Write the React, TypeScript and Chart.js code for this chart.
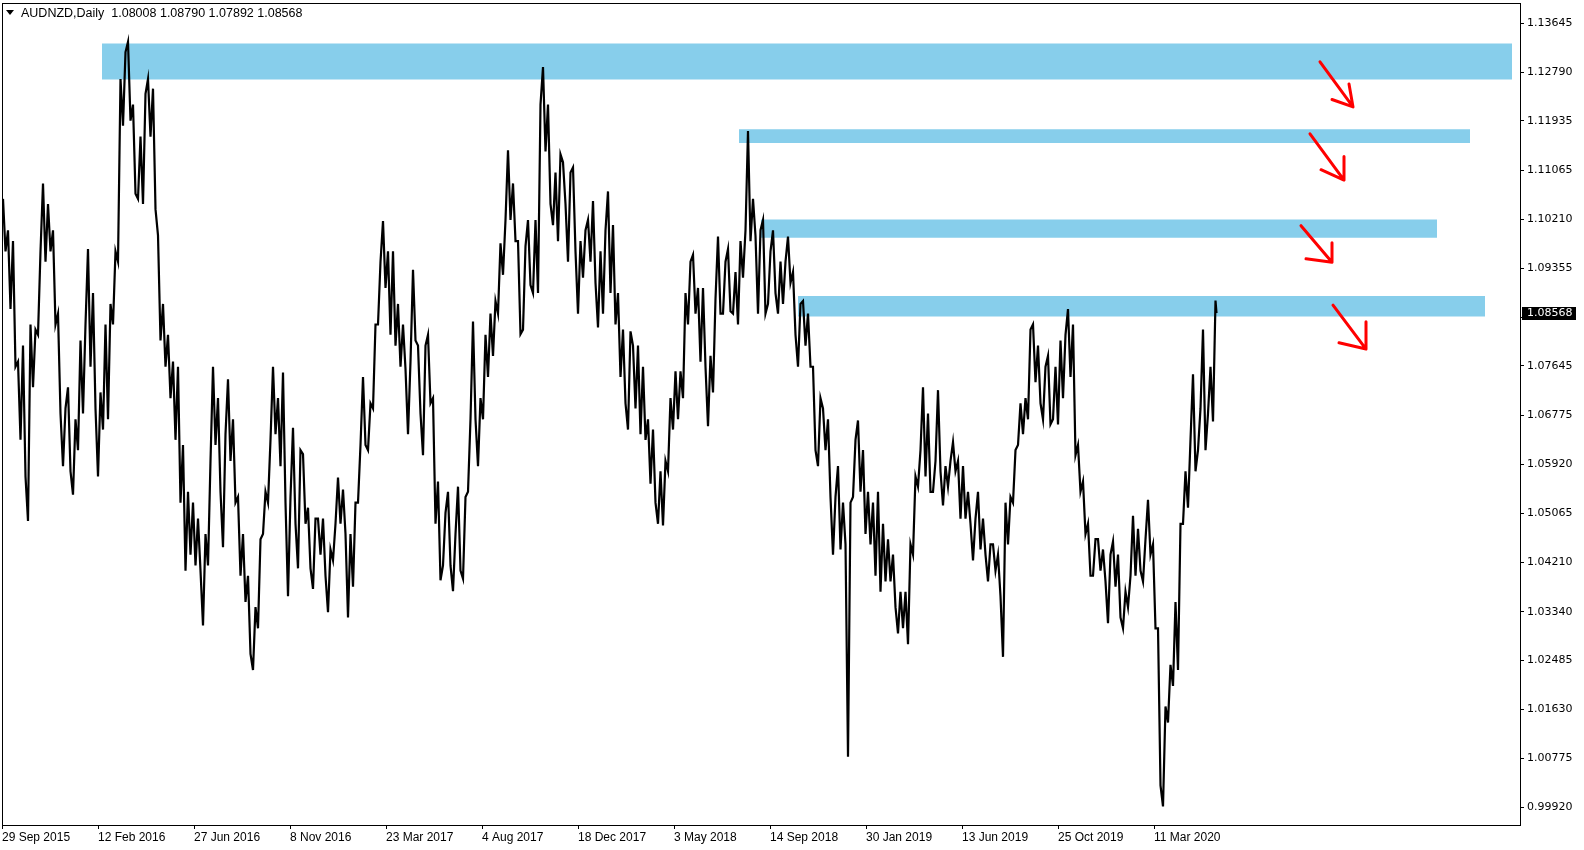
import { useEffect, useRef } from 'react';
import { Chart, registerables } from 'chart.js';

Chart.register(...registerables);

// ---- header ----
const symbolTitle = 'AUDNZD,Daily';
const lastBarOHLC = [1.08008, 1.0879, 1.07892, 1.08568];

// ---- weekly high / low (one entry per 5 daily bars) ----
const weekHigh = [
  1.1057, 1.1002, 1.0983, 1.0772, 1.0800, 1.0837, 1.0828, 1.0965, 1.1084, 1.1048,
  1.1002, 1.0856, 1.0690, 1.0727, 1.0671, 1.0809, 1.0837, 1.0969, 1.0892, 1.0718,
  1.0837, 1.0873, 1.0965, 1.1267, 1.1314, 1.1332, 1.1222, 1.1166, 1.1241, 1.1267,
  1.1250, 1.0993, 1.0873, 1.0819, 1.0772, 1.0763, 1.0626, 1.0544, 1.0525, 1.0497,
  1.0470, 1.0598, 1.0763, 1.0708, 1.0645, 1.0741, 1.0671, 1.0535, 1.0470, 1.0397,
  1.0342, 1.0461, 1.0544, 1.0635, 1.0763, 1.0708, 1.0753, 1.0535, 1.0656, 1.0617,
  1.0610, 1.0516, 1.0497, 1.0497, 1.0497, 1.0443, 1.0488, 1.0569, 1.0548, 1.0470,
  1.0525, 1.0626, 1.0745, 1.0699, 1.0837, 1.0947, 1.1018, 1.0965, 1.0965, 1.0873,
  1.0837, 1.0772, 1.0933, 1.0800, 1.0800, 1.0819, 1.0708, 1.0562, 1.0507, 1.0544,
  1.0470, 1.0553, 1.0535, 1.0671, 1.0842, 1.0708, 1.0819, 1.0856, 1.0878, 1.0979,
  1.1020, 1.1142, 1.1084, 1.0983, 1.0974, 1.1020, 1.1020, 1.1222, 1.1288, 1.1222,
  1.1103, 1.1135, 1.1121, 1.1103, 1.1112, 1.0983, 1.1002, 1.1020, 1.1053, 1.0965,
  1.1002, 1.1070, 1.1011, 1.0892, 1.0828, 1.0825, 1.0800, 1.0800, 1.0763, 1.0671,
  1.0653, 1.0580, 1.0598, 1.0708, 1.0755, 1.0755, 1.0892, 1.0947, 1.0959, 1.0901,
  1.0901, 1.0782, 1.0882, 1.0991, 1.0947, 1.0969, 1.0929, 1.0983, 1.1002, 1.1176,
  1.1057, 1.1002, 1.1020, 1.0965, 1.1002, 1.0947, 1.0947, 1.0991, 1.0929, 1.0873,
  1.0878, 1.0856, 1.0763, 1.0708, 1.0690, 1.0671, 1.0535, 1.0589, 1.0525, 1.0525,
  1.0635, 1.0669, 1.0617, 1.0544, 1.0525, 1.0544, 1.0488, 1.0461, 1.0434, 1.0369,
  1.0369, 1.0452, 1.0571, 1.0617, 1.0727, 1.0681, 1.0598, 1.0722, 1.0589, 1.0598,
  1.0631, 1.0598, 1.0589, 1.0544, 1.0497, 1.0544, 1.0497, 1.0452, 1.0452, 1.0434,
  1.0525, 1.0535, 1.0617, 1.0699, 1.0708, 1.0828, 1.0837, 1.0800, 1.0763, 1.0782,
  1.0763, 1.0809, 1.0819, 1.0864, 1.0837, 1.0626, 1.0562, 1.0488, 1.0461, 1.0461,
  1.0443, 1.0434, 1.0457, 1.0434, 1.0369, 1.0397, 1.0502, 1.0479, 1.0461, 1.0530,
  1.0452, 1.0305, 1.0168, 1.0241, 1.0351, 1.0488, 1.0580, 1.0635, 1.0750, 1.0690,
  1.0828, 1.0763, 1.0879,
];
const weekLow = [
  1.0965, 1.0864, 1.0763, 1.0635, 1.0571, 1.0493, 1.0727, 1.0819, 1.0947, 1.0965,
  1.0837, 1.0681, 1.0589, 1.0580, 1.0539, 1.0617, 1.0681, 1.0763, 1.0690, 1.0571,
  1.0653, 1.0671, 1.0837, 1.0947, 1.1185, 1.1194, 1.1066, 1.1057, 1.1048, 1.1166,
  1.1039, 1.0809, 1.0763, 1.0708, 1.0635, 1.0525, 1.0406, 1.0434, 1.0415, 1.0406,
  1.0310, 1.0415, 1.0626, 1.0544, 1.0447, 1.0598, 1.0525, 1.0397, 1.0351, 1.0260,
  1.0232, 1.0305, 1.0470, 1.0525, 1.0645, 1.0589, 1.0525, 1.0361, 1.0488, 1.0410,
  1.0488, 1.0410, 1.0374, 1.0434, 1.0397, 1.0333, 1.0424, 1.0488, 1.0470, 1.0324,
  1.0378, 1.0525, 1.0626, 1.0617, 1.0690, 1.0837, 1.0901, 1.0819, 1.0800, 1.0763,
  1.0759, 1.0645, 1.0809, 1.0681, 1.0608, 1.0699, 1.0488, 1.0389, 1.0415, 1.0415,
  1.0370, 1.0406, 1.0392, 1.0544, 1.0671, 1.0589, 1.0671, 1.0745, 1.0782, 1.0856,
  1.0924, 1.1020, 1.0983, 1.0820, 1.0828, 1.0906, 1.0892, 1.0892, 1.1140, 1.1048,
  1.1011, 1.0983, 1.1048, 1.0947, 1.0965, 1.0856, 1.0919, 1.0947, 1.0910, 1.0832,
  1.0856, 1.0892, 1.0837, 1.0745, 1.0699, 1.0653, 1.0690, 1.0645, 1.0635, 1.0558,
  1.0525, 1.0488, 1.0485, 1.0580, 1.0653, 1.0671, 1.0708, 1.0837, 1.0856, 1.0772,
  1.0763, 1.0659, 1.0718, 1.0856, 1.0856, 1.0860, 1.0856, 1.0837, 1.0919, 1.0983,
  1.0992, 1.0856, 1.0856, 1.0873, 1.0892, 1.0856, 1.0873, 1.0910, 1.0819, 1.0763,
  1.0800, 1.0763, 1.0617, 1.0589, 1.0617, 1.0535, 1.0434, 1.0443, 1.0452, 1.0080,
  1.0535, 1.0544, 1.0470, 1.0452, 1.0397, 1.0369, 1.0387, 1.0387, 1.0342, 1.0296,
  1.0305, 1.0277, 1.0434, 1.0553, 1.0571, 1.0544, 1.0544, 1.0580, 1.0520, 1.0553,
  1.0580, 1.0497, 1.0497, 1.0488, 1.0424, 1.0443, 1.0434, 1.0387, 1.0406, 1.0361,
  1.0255, 1.0452, 1.0525, 1.0626, 1.0645, 1.0671, 1.0736, 1.0699, 1.0671, 1.0662,
  1.0671, 1.0662, 1.0708, 1.0745, 1.0608, 1.0544, 1.0470, 1.0397, 1.0397, 1.0406,
  1.0387, 1.0314, 1.0378, 1.0324, 1.0305, 1.0342, 1.0397, 1.0406, 1.0387, 1.0434,
  1.0305, 1.0030, 0.9993, 1.0140, 1.0204, 1.0232, 1.0488, 1.0516, 1.0580, 1.0617,
  1.0617, 1.0681, 1.0667,
];
const barsPerWeek = 5;

// ---- axes ----
const priceTicks = [
  1.13645, 1.1279, 1.11935, 1.11065, 1.1021, 1.09355, 1.085, 1.07645, 1.06775,
  1.0592, 1.05065, 1.0421, 1.0334, 1.02485, 1.0163, 1.00775, 0.9992,
];
const priceMin = 0.99605;
const priceMax = 1.14;
const barMax = 1518;
const dateTickBars = [0, 96, 192, 288, 384, 480, 576, 672, 768, 864, 960, 1056, 1152];
const dateTickLabels = [
  '29 Sep 2015', '12 Feb 2016', '27 Jun 2016', '8 Nov 2016', '23 Mar 2017', '4 Aug 2017',
  '18 Dec 2017', '3 May 2018', '14 Sep 2018', '30 Jan 2019', '13 Jun 2019', '25 Oct 2019',
  '11 Mar 2020',
];

// ---- supply zones (blue rectangles) ----
const zoneStartBar = [100, 737, 759, 796];
const zoneEndBar = [1510, 1468, 1435, 1483];
const zoneTop = [1.1329, 1.1179, 1.1021, 1.0887];
const zoneBottom = [1.1266, 1.1155, 1.0989, 1.0851];

// ---- red arrows ----
const arrowTailBar = [1318, 1308, 1299, 1331];
const arrowTailPrice = [1.1297, 1.1171, 1.101, 1.0871];
const arrowTipBar = [1351, 1342, 1330, 1364];
const arrowTipPrice = [1.1218, 1.109, 1.0946, 1.0794];
const arrowWingABar = [1330, 1319, 1304, 1337];
const arrowWingAPrice = [1.1231, 1.1108, 1.0952, 1.0805];
const arrowWingBBar = [1347, 1342, 1330, 1364];
const arrowWingBPrice = [1.1258, 1.1131, 1.098, 1.0842];

const axisFont = "'DejaVu Sans', sans-serif";
const sansFont = "'Liberation Sans', Arial, sans-serif";

function buildPricePoints() {
  const pts: { x: number; y: number }[] = [];
  const n = weekHigh.length;
  for (let w = 0; w < n; w++) {
    const mid = (weekHigh[w] + weekLow[w]) / 2;
    const nextMid = w + 1 < n ? (weekHigh[w + 1] + weekLow[w + 1]) / 2 : mid;
    const rising = nextMid >= mid;
    const first = rising ? weekLow[w] : weekHigh[w];
    const second = rising ? weekHigh[w] : weekLow[w];
    pts.push({ x: w * barsPerWeek + 1, y: first });
    pts.push({ x: w * barsPerWeek + 3.5, y: second });
  }
  pts.push({ x: (n - 1) * barsPerWeek + 4.5, y: lastBarOHLC[3] });
  return pts;
}

const frameAndPricePlugin = {
  id: 'frameAndPrice',
  afterDraw(chart: any) {
    const { ctx, chartArea } = chart;
    const { left, top, right, bottom } = chartArea;
    ctx.save();
    ctx.strokeStyle = '#000';
    ctx.lineWidth = 1;
    ctx.strokeRect(Math.round(left) + 0.5, Math.round(top) + 0.5, Math.round(right - left), Math.round(bottom - top));
    const y = chart.scales.y.getPixelForValue(lastBarOHLC[3]);
    const bx = Math.round(right) + 2;
    ctx.fillStyle = '#000';
    ctx.fillRect(bx, Math.round(y) - 6, 54, 13);
    ctx.fillStyle = '#fff';
    ctx.font = `11px ${axisFont}`;
    ctx.textBaseline = 'middle';
    ctx.textAlign = 'left';
    ctx.fillText(lastBarOHLC[3].toFixed(5), bx + 5, Math.round(y) + 0.5);
    ctx.restore();
  },
};

export default function App() {
  const ref = useRef<HTMLCanvasElement>(null);

  useEffect(() => {
    const datasets: any[] = [];
    datasets.push({
      type: 'line',
      data: buildPricePoints(),
      borderColor: '#000',
      borderWidth: 2.2,
      pointRadius: 0,
      tension: 0,
      order: 1,
    });
    for (let i = 0; i < zoneStartBar.length; i++) {
      datasets.push({
        type: 'line',
        data: [
          { x: zoneStartBar[i], y: zoneTop[i] },
          { x: zoneEndBar[i], y: zoneTop[i] },
        ],
        borderWidth: 0,
        borderColor: 'rgba(0,0,0,0)',
        backgroundColor: '#87CEEB',
        fill: { value: zoneBottom[i] },
        pointRadius: 0,
        order: 2,
      });
    }
    for (let i = 0; i < arrowTipBar.length; i++) {
      datasets.push({
        type: 'line',
        data: [
          { x: arrowTailBar[i], y: arrowTailPrice[i] },
          { x: arrowTipBar[i], y: arrowTipPrice[i] },
          { x: arrowWingABar[i], y: arrowWingAPrice[i] },
          { x: arrowTipBar[i], y: arrowTipPrice[i] },
          { x: arrowWingBBar[i], y: arrowWingBPrice[i] },
        ],
        borderColor: '#ff0000',
        borderWidth: 3,
        borderCapStyle: 'round',
        borderJoinStyle: 'round',
        pointRadius: 0,
        tension: 0,
        fill: false,
        order: 0,
      });
    }

    const chart = new Chart(ref.current as HTMLCanvasElement, {
      type: 'line',
      data: { datasets },
      plugins: [frameAndPricePlugin],
      options: {
        responsive: false,
        devicePixelRatio: 1,
        animation: false,
        events: [],
        layout: { padding: { left: 2, top: 3, right: 0, bottom: 0 } },
        plugins: { legend: { display: false }, tooltip: { enabled: false } },
        scales: {
          x: {
            type: 'linear',
            min: 0,
            max: barMax,
            afterBuildTicks(scale: any) {
              scale.ticks = dateTickBars.map((v) => ({ value: v }));
            },
            afterFit(scale: any) {
              scale.height = 25;
              scale.paddingLeft = 0;
              scale.paddingRight = 0;
            },
            border: { display: false },
            grid: { drawOnChartArea: false, drawTicks: true, tickLength: 4, color: '#000' },
            ticks: {
              autoSkip: false,
              maxRotation: 0,
              minRotation: 0,
              align: 'start',
              padding: 1,
              color: '#000',
              font: { family: sansFont, size: 12 },
              callback(value: any) {
                const idx = dateTickBars.indexOf(Number(value));
                return idx >= 0 ? dateTickLabels[idx] : '';
              },
            },
          },
          y: {
            type: 'linear',
            position: 'right',
            min: priceMin,
            max: priceMax,
            afterBuildTicks(scale: any) {
              scale.ticks = priceTicks.map((v) => ({ value: v }));
            },
            afterFit(scale: any) {
              scale.width = 64;
              scale.paddingTop = 0;
              scale.paddingBottom = 0;
            },
            border: { display: false },
            grid: { drawOnChartArea: false, drawTicks: true, tickLength: 4, color: '#000' },
            ticks: {
              autoSkip: false,
              padding: 3,
              color: '#000',
              font: { family: axisFont, size: 11 },
              callback(value: any) {
                return Number(value).toFixed(5);
              },
            },
          },
        },
      } as any,
    } as any);
    return () => chart.destroy();
  }, []);

  return (
    <div style={{ position: 'fixed', left: 0, top: 0, width: 1584, height: 850, background: '#fff', overflow: 'hidden' }}>
      <canvas ref={ref} width={1584} height={850} style={{ position: 'absolute', left: 0, top: 0, width: 1584, height: 850 }} />
      <div
        style={{
          position: 'absolute',
          left: 6,
          top: 10,
          width: 0,
          height: 0,
          borderLeft: '4px solid transparent',
          borderRight: '4px solid transparent',
          borderTop: '5px solid #000',
        }}
      />
      <div
        style={{
          position: 'absolute',
          left: 21,
          top: 6,
          font: `12.5px ${sansFont}`,
          lineHeight: '14px',
          color: '#000',
          whiteSpace: 'pre',
        }}
      >
        {`${symbolTitle}  ${lastBarOHLC.map((v) => v.toFixed(5)).join(' ')}`}
      </div>
    </div>
  );
}
